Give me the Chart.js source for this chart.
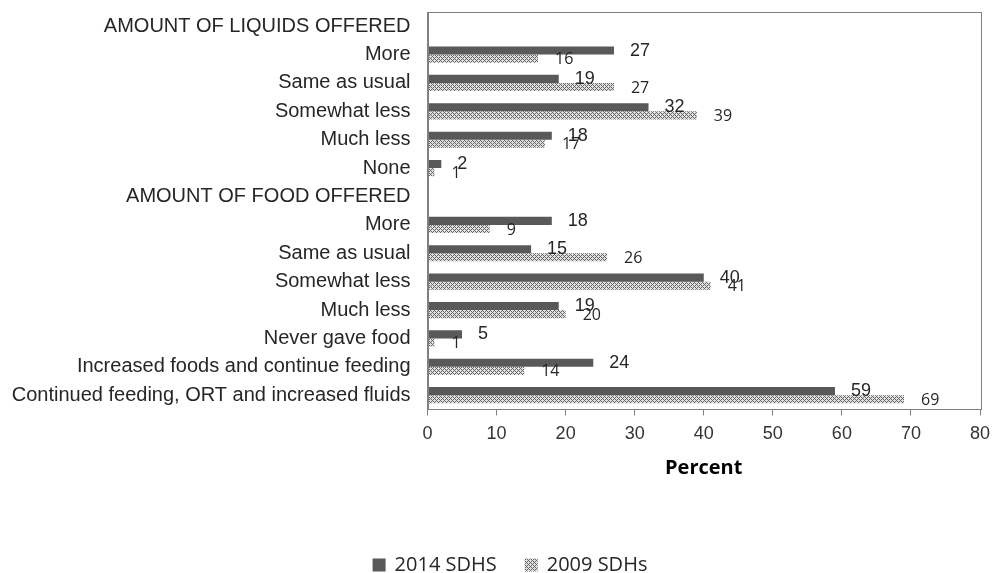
<!DOCTYPE html>
<html>
<head>
<meta charset="utf-8">
<script src="https://cdn.jsdelivr.net/npm/chart.js@4.4.0/dist/chart.umd.min.js"></script>
<style>
  html, body { margin: 0; padding: 0; background: #fff; }
  #wrap { width: 992px; height: 573px; }
</style>
</head>
<body>
<div id="wrap"><canvas id="feedingChart" width="992" height="573"></canvas></div>
<script>
// categories (header rows have no bars)
const categories = [
    'AMOUNT OF LIQUIDS OFFERED',
    'More',
    'Same as usual',
    'Somewhat less',
    'Much less',
    'None',
    'AMOUNT OF FOOD OFFERED',
    'More',
    'Same as usual',
    'Somewhat less',
    'Much less',
    'Never gave food',
    'Increased foods and continue feeding',
    'Continued feeding, ORT and increased fluids'
];
const sdhs2014 = [null, 27, 19, 32, 18, 2, null, 18, 15, 40, 19, 5, 24, 59];
const sdhs2009 = [null, 16, 27, 39, 17, 1, null, 9, 26, 41, 20, 1, 14, 69];
const xTicks = [0, 10, 20, 30, 40, 50, 60, 70, 80];

// crosshatch fill for the 2009 series
const makeHatch = () => {
    const c = document.createElement('canvas');
    c.width = 4; c.height = 4;
    const g = c.getContext('2d');
    g.fillStyle = '#e0e0e0';
    g.fillRect(0, 0, 4, 4);
    g.fillStyle = '#666';
    for (let x = 0; x < 4; x++) {
        for (let y = 0; y < 4; y++) {
            if ((x + y) % 4 === 0 || (x - y + 4) % 4 === 0) g.fillRect(x, y, 1, 1);
        }
    }
    return g.createPattern(c, 'repeat');
};

// box around plot area
const frame = {
    id: 'frame',
    afterDraw(chart) {
        const { ctx, chartArea: a } = chart;
        ctx.save();
        ctx.strokeStyle = '#808080';
        ctx.lineWidth = 1;
        ctx.strokeRect(Math.round(a.left) + 0.5, Math.round(a.top) + 0.5,
            Math.round(a.right - a.left), Math.round(a.bottom - a.top));
        ctx.restore();
    }
};

// value labels right of each bar
const valueLabels = {
    id: 'valueLabels',
    afterDatasetsDraw(chart) {
        const { ctx } = chart;
        const styles = [
            { font: '18px "Liberation Sans", Arial, sans-serif', dx: 16, dy: 0 },
            { font: '16px "Open Sans", sans-serif', dx: 17, dy: 1 }
        ];
        ctx.save();
        ctx.fillStyle = '#262626';
        ctx.textAlign = 'left';
        ctx.textBaseline = 'middle';
        chart.data.datasets.forEach((ds, i) => {
            const meta = chart.getDatasetMeta(i);
            ctx.font = styles[i].font;
            meta.data.forEach((el, j) => {
                const v = ds.data[j];
                if (v === null) return;
                ctx.fillText(String(v), el.x + styles[i].dx, el.y + styles[i].dy);
            });
        });
        ctx.restore();
    }
};

// legend at the bottom, spaced like the original
const bottomLegend = {
    id: 'bottomLegend',
    afterDraw(chart) {
        const { ctx } = chart;
        const box = 13, gapText = 9, gapItem = 28, cx = 510, cy = 565;
        ctx.save();
        ctx.font = '20px "Open Sans", sans-serif';
        ctx.textBaseline = 'middle';
        const items = chart.data.datasets.map(ds => ({
            text: ds.label, fill: ds.backgroundColor, w: ctx.measureText(ds.label).width
        }));
        let total = 0;
        items.forEach((it, i) => { total += box + gapText + it.w + (i ? gapItem : 0); });
        let x = cx - total / 2;
        items.forEach(it => {
            ctx.fillStyle = it.fill;
            ctx.fillRect(x, cy - box / 2, box, box);
            ctx.fillStyle = '#262626';
            ctx.fillText(it.text, x + box + gapText, cy);
            x += box + gapText + it.w + gapItem;
        });
        ctx.restore();
    }
};

const ctx = document.getElementById('feedingChart').getContext('2d');
new Chart(ctx, {
    type: 'bar',
    data: {
        labels: categories,
        datasets: [{
            label: '2014 SDHS',
            data: sdhs2014,
            backgroundColor: '#595959',
            borderWidth: 0,
            categoryPercentage: 0.57,
            barPercentage: 1
        }, {
            label: '2009 SDHs',
            data: sdhs2009,
            backgroundColor: makeHatch(),
            borderWidth: 0,
            categoryPercentage: 0.57,
            barPercentage: 1
        }]
    },
    options: {
        indexAxis: 'y',
        responsive: false,
        animation: false,
        layout: { padding: { left: 10, right: 12, top: 12, bottom: 0 } },
        plugins: {
            tooltip: { enabled: false },
            legend: { display: false }
        },
        scales: {
            x: {
                min: 0,
                max: 80,
                afterBuildTicks: (scale) => { scale.ticks = xTicks.map(v => ({ value: v })); },
                afterFit: (scale) => {
                    scale.paddingLeft = 0;
                    scale.paddingRight = 0;
                },
                grid: { drawOnChartArea: false, drawTicks: true, tickLength: 6, color: '#808080' },
                border: { color: '#808080' },
                ticks: {
                    padding: 8,
                    color: '#333',
                    font: { family: '"Liberation Sans", Arial, sans-serif', size: 18 }
                },
                title: {
                    display: true,
                    text: 'Percent',
                    color: '#000',
                    padding: { top: 3, bottom: 93 },
                    font: { family: '"Open Sans", sans-serif', size: 20, weight: 'bold' }
                }
            },
            y: {
                afterFit: (scale) => {
                    scale.width = 417.5;
                    scale.paddingTop = 0;
                    scale.paddingBottom = 0;
                },
                grid: { display: false, drawTicks: false },
                border: { color: '#808080' },
                ticks: {
                    padding: 17,
                    autoSkip: false,
                    color: '#262626',
                    font: { family: '"Liberation Sans", Arial, sans-serif', size: 20 }
                }
            }
        }
    },
    plugins: [frame, valueLabels, bottomLegend]
});
</script>
</body>
</html>
